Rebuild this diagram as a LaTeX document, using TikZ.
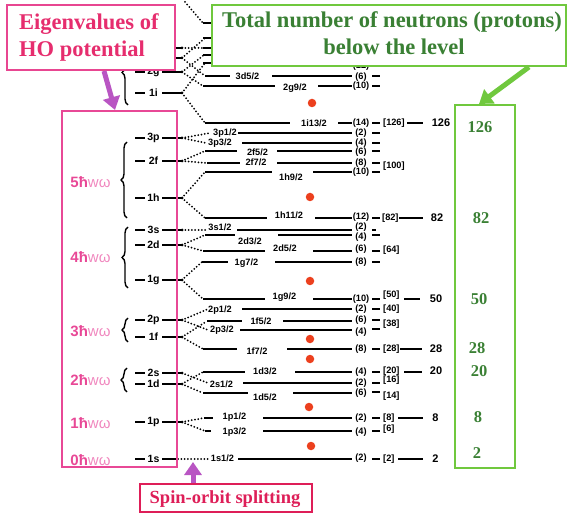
\documentclass[tikz,border=0pt]{standalone}
\usepackage{fontspec}
\setmainfont{Liberation Serif}
\setsansfont{Liberation Sans}
\usetikzlibrary{arrows.meta,decorations.pathreplacing}
\definecolor{hopink}{RGB}{232,72,150}
\definecolor{hopinklt}{RGB}{240,135,190}
\definecolor{eigpink}{RGB}{230,45,110}
\definecolor{eigborder}{RGB}{232,70,145}
\definecolor{socrim}{RGB}{222,30,88}
\definecolor{gtext}{RGB}{58,128,52}
\definecolor{gborder}{RGB}{112,200,62}
\definecolor{arrpurple}{RGB}{185,85,195}
\definecolor{dotred}{RGB}{236,64,30}
\newcommand{\lblf}{\sffamily\bfseries\fontsize{9.2}{10}\selectfont}
\newcommand{\holf}{\sffamily\bfseries\fontsize{10.5}{11}\selectfont}
\newcommand{\magf}{\sffamily\bfseries\fontsize{11}{12}\selectfont}
\newcommand{\hwf}{\sffamily\fontsize{15}{16}\selectfont}
\newcommand{\bigf}{\rmfamily\bfseries\fontsize{22.5}{24}\selectfont}
\newcommand{\gnumf}{\rmfamily\bfseries\fontsize{16.5}{18}\selectfont}
\newcommand{\sof}{\rmfamily\bfseries\fontsize{18.5}{20}\selectfont}
\newcommand{\mylev}[8]{%
  \coordinate (#1) at (#3,#2);
  \draw[lvl] (#3,#2) -- (#4,#2);
  \node[slab] (#1-t) at (#6,#7) {#5};
  \draw[lvl] (#8,#2) -- (352,#2);}
\newcommand{\mycnt}[4]{%
  \node[slab] (#1-n) at (361,#4) {#3};
  \draw[lvl] (372,#2) -- (380,#2);}
\newcommand{\myho}[3]{%
  \draw[lvl] (135,#2) -- (145,#2);
  \node[hol] (#1-t) at (153.5,#2) {#3};
  \draw[lvl] (162,#2) -- (182,#2);
  \fill (182,#2) circle (1.5pt);
  \coordinate (#1) at (182,#2);}
\newcommand{\hw}[4]{%
  \node[hwlab] (#1) at (90.5,#2) {{\bfseries\color{hopink}#3}{\color{hopinklt}wω}};}
\begin{document}
\begin{tikzpicture}[x=1pt,y=-1pt,
  lvl/.style={line width=1.5pt},
  dots/.style={line width=2pt, dash pattern=on 0pt off 3.3pt, line cap=round},
  slab/.style={font=\lblf, inner sep=0pt},
  hol/.style={font=\holf, inner sep=0pt},
  mag/.style={font=\magf, inner sep=0pt},
  hwlab/.style={font=\hwf, inner sep=0pt},
  gnum/.style={font=\gnumf, text=gtext, inner sep=0pt},
  rdot/.style={fill=dotred, draw=none, circle, minimum size=8.5pt, inner sep=0pt},
  bracestyle/.style={line width=1.4pt, decorate, decoration={brace, amplitude=6pt}},
  parrow/.style={line width=5pt, draw=arrpurple, -{Triangle[length=13pt,width=17pt]}},
  garrow/.style={line width=5pt, draw=gborder, -{Triangle[length=13pt,width=17pt]}}]
\useasboundingbox (0,0) rectangle (568,513);

% ---------- hidden levels at top (behind boxes)
\coordinate (t1) at (203,23);
\coordinate (t2) at (205,38);
\coordinate (t3) at (207,48);
\coordinate (t4) at (204,55);
\coordinate (t5) at (205,63);
\foreach \yy in {23,38,48,55,63}{\draw[lvl] (203,\yy) -- (352,\yy);}
\node[slab] (c12) at (361,66) {(12)};
\draw[lvl] (372,66.5) -- (380,66.5);
\coordinate (topsrc) at (185,2);
\draw[lvl] (160,48) -- (182,48); \fill (182,48) circle (1.5pt); \coordinate (h4s) at (182,48);
\draw[lvl] (160,58) -- (182,58); \fill (182,58) circle (1.5pt); \coordinate (h3d) at (182,58);

% ---------- split levels
\mylev{s3d52}{76}{205}{230}{3d5/2}{247.5}{76}{272}
\mycnt{s3d52}{76}{(6)}{77}
\mylev{s2g92}{86}{203}{275}{2g9/2}{295}{88}{318}
\mycnt{s2g92}{86}{(10)}{86.5}
\mylev{s1i132}{123}{205}{290}{1i13/2}{314}{123}{338}
\mycnt{s1i132}{123}{(14)}{123}
\mylev{s3p12}{133}{210}{210}{3p1/2}{225}{133}{238}
\mycnt{s3p12}{133}{(2)}{133}
\mylev{s3p32}{143}{206}{206}{3p3/2}{220}{143}{242}
\mycnt{s3p32}{143}{(4)}{143}
\mylev{s2f52}{151}{205}{237}{2f5/2}{257.5}{152}{277}
\mycnt{s2f52}{151}{(6)}{152}
\mylev{s2f72}{163}{207}{240}{2f7/2}{256}{162}{277}
\mycnt{s2f72}{163}{(8)}{163}
\mylev{s1h92}{172}{205}{272}{1h9/2}{291}{177}{313}
\mycnt{s1h92}{172}{(10)}{172}
\mylev{s1h112}{218}{205}{267}{1h11/2}{289}{215}{315}
\mycnt{s1h112}{218}{(12)}{217}
\mylev{s3s12}{230}{208}{208}{3s1/2}{220}{227}{237}
\node[slab] (s3s12-n) at (361,227) {(2)};
\draw[lvl] (372,230) -- (376,230);
\mylev{s2d32}{235}{205}{235}{2d3/2}{250}{241}{278}
\mycnt{s2d32}{235}{(4)}{237}
\mylev{s2d52}{251}{203}{265}{2d5/2}{285}{248}{313}
\mycnt{s2d52}{251}{(6)}{249}
\mylev{s1g72}{262}{202}{228}{1g7/2}{246.5}{263}{275}
\mycnt{s1g72}{262}{(8)}{262}
\mylev{s1g92}{299}{203}{265}{1g9/2}{284.5}{297}{313}
\mycnt{s1g92}{299}{(10)}{299}
\mylev{s2p12}{309}{208}{208}{2p1/2}{220}{310}{242}
\mycnt{s2p12}{309}{(2)}{309}
\mylev{s1f52}{321}{207}{242}{1f5/2}{261}{321}{283}
\mycnt{s1f52}{320}{(6)}{320}
\mylev{s2p32}{330}{208}{208}{2p3/2}{222}{330}{240}
\mycnt{s2p32}{329}{(4)}{332}
\mylev{s1f72}{349}{203}{237}{1f7/2}{257}{351}{287}
\mycnt{s1f72}{349}{(8)}{349}
\mylev{s1d32}{372}{203}{245}{1d3/2}{265}{371}{295}
\mycnt{s1d32}{372}{(4)}{372}
\mylev{s2s12}{383}{208}{208}{2s1/2}{221.5}{384}{243}
\mycnt{s2s12}{383}{(2)}{383}
\mylev{s1d52}{393}{203}{248}{1d5/2}{265}{397}{293}
\mycnt{s1d52}{392}{(6)}{393}
\mylev{s1p12}{418}{204}{213}{1p1/2}{234.5}{417}{263}
\mycnt{s1p12}{418}{(2)}{418}
\mylev{s1p32}{431}{205}{211}{1p3/2}{234.5}{432}{263}
\mycnt{s1p32}{431}{(4)}{432}
\mylev{s1s12}{459}{209}{209}{1s1/2}{222.5}{458}{238}
\mycnt{s1s12}{459}{(2)}{458}

% ---------- bracketed totals and magic numbers
\node[slab,anchor=west] (b126) at (383,123) {[126]};
\draw[lvl] (407,123) -- (423,123);
\node[mag] (m126) at (441,123) {126};
\node[slab,anchor=west] (b100) at (383,166) {[100]};
\node[slab,anchor=west] (b82) at (382,218) {[82]};
\draw[lvl] (399,218) -- (423,218);
\node[mag] (m82) at (437,218) {82};
\node[slab,anchor=west] (b64) at (383,250) {[64]};
\node[slab,anchor=west] (b50) at (383,295) {[50]};
\draw[lvl] (404,299) -- (420,299);
\node[mag] (m50) at (436,299) {50};
\node[slab,anchor=west] (b40) at (383,309) {[40]};
\node[slab,anchor=west] (b38) at (383,324) {[38]};
\node[slab,anchor=west] (b28) at (383,349) {[28]};
\draw[lvl] (400,349) -- (422,349);
\node[mag] (m28) at (436,349) {28};
\node[slab,anchor=west] (b20) at (383,371) {[20]};
\draw[lvl] (404,372) -- (422,372);
\node[mag] (m20) at (436,371) {20};
\node[slab,anchor=west] (b16) at (383,380) {[16]};
\node[slab,anchor=west] (b14) at (383,396) {[14]};
\node[slab,anchor=west] (b8) at (383,418) {[8]};
\draw[lvl] (398,418) -- (423,418);
\node[mag] (m8) at (435.5,418) {8};
\node[slab,anchor=west] (b6) at (383,429) {[6]};
\node[slab,anchor=west] (b2) at (383,459) {[2]};
\draw[lvl] (398,459) -- (423,459);
\node[mag] (m2) at (435.5,459) {2};

% ---------- HO levels
\myho{h2g}{72}{2g}
\myho{h1i}{93}{1i}
\myho{h3p}{138}{3p}
\myho{h2f}{161}{2f}
\myho{h1h}{198}{1h}
\myho{h3s}{230}{3s}
\myho{h2d}{245}{2d}
\myho{h1g}{280}{1g}
\myho{h2p}{320}{2p}
\myho{h1f}{337}{1f}
\myho{h2s}{373}{2s}
\myho{h1d}{384}{1d}
\myho{h1p}{422}{1p}
\draw[lvl] (135,459) -- (145,459);
\node[hol] (h1s-t) at (153.5,459) {1s};
\draw[lvl] (162,459) -- (177,459);
\coordinate (h1s) at (178,459);

% ---------- dotted spin-orbit connectors
\draw[dots] (topsrc) -- (t1);
\draw[dots] (h4s) -- (t3);
\draw[dots] (h3d) -- (t2);
\draw[dots] (h3d) -- (s3d52);
\draw[dots] (h2g) -- (t4);
\draw[dots] (h2g) -- (s2g92);
\draw[dots] (h1i) -- (t5);
\draw[dots] (h1i) -- (s1i132);
\draw[dots] (h3p) -- (s3p12);
\draw[dots] (h3p) -- (s3p32);
\draw[dots] (h2f) -- (s2f52);
\draw[dots] (h2f) -- (s2f72);
\draw[dots] (h1h) -- (s1h92);
\draw[dots] (h1h) -- (s1h112);
\draw[dots] (h3s) -- (s3s12);
\draw[dots] (h2d) -- (s2d32);
\draw[dots] (h2d) -- (s2d52);
\draw[dots] (h1g) -- (s1g72);
\draw[dots] (h1g) -- (s1g92);
\draw[dots] (h2p) -- (s2p12);
\draw[dots] (h2p) -- (s2p32);
\draw[dots] (h1f) -- (s1f52);
\draw[dots] (h1f) -- (s1f72);
\draw[dots] (h2s) -- (s2s12);
\draw[dots] (h1d) -- (s1d32);
\draw[dots] (h1d) -- (s1d52);
\draw[dots] (h1p) -- (s1p12);
\draw[dots] (h1p) -- (s1p32);
\draw[dots] (h1s) -- (s1s12);

% ---------- braces
\draw[bracestyle] (128,105) -- (128,40);
\draw[bracestyle] (127,218) -- (127,142);
\draw[bracestyle] (128,288) -- (128,227);
\draw[bracestyle] (128,342) -- (128,318);
\draw[bracestyle] (127,392) -- (127,368);

% ---------- shell gaps
\node[rdot] (r1) at (312,103) {};
\node[rdot] (r2) at (310,197) {};
\node[rdot] (r3) at (310,281) {};
\node[rdot] (r4) at (310,339) {};
\node[rdot] (r5) at (310,359) {};
\node[rdot] (r6) at (309,407) {};
\node[rdot] (r7) at (311,446) {};

% ---------- HO column
\draw[hopink, line width=2pt] (62,111) rectangle (177,467);
\hw{hw5}{182}{5ħ}{}
\hw{hw4}{257}{4ħ}{}
\hw{hw3}{331}{3ħ}{}
\hw{hw2}{380}{2ħ}{}
\hw{hw1}{423}{1ħ}{}
\hw{hw0}{460}{0ħ}{}

% ---------- totals column
\draw[gborder, line width=2.5pt] (455,105) rectangle (515,468);
\node[gnum] (g126) at (480,127) {126};
\node[gnum] (g82) at (481,218) {82};
\node[gnum] (g50) at (479,299) {50};
\node[gnum] (g28) at (477,348) {28};
\node[gnum] (g20) at (479,371) {20};
\node[gnum] (g8) at (478,417) {8};
\node[gnum] (g2) at (477,453) {2};

% ---------- callouts
\draw[eigborder, line width=2.5pt, fill=white] (7,5) rectangle (175,70);
\node[font=\bigf, text=eigpink, anchor=west, inner sep=0pt] (eig1) at (19,24) {Eigenvalues of};
\node[font=\bigf, text=eigpink, anchor=west, inner sep=0pt] (eig2) at (19,51) {HO potential};

\draw[gborder, line width=2.5pt, fill=white] (212,5) rectangle (566,66);
\node[font=\bigf, text=gtext, inner sep=0pt] (tot1) at (392,22) {Total number of neutrons (protons)};
\node[font=\bigf, text=gtext, inner sep=0pt] (tot2) at (394,47) {below the level};

\draw[socrim, line width=2.5pt, fill=white] (140,484) rectangle (312,512);
\node[font=\sof, text=socrim, inner sep=0pt] (so) at (225,499) {Spin-orbit splitting};

% ---------- arrows
\coordinate (pa1) at (104,71);
\coordinate (pa2) at (115,110);
\draw[parrow] (pa1) -- (pa2);
\coordinate (pb1) at (193,483);
\coordinate (pb2) at (193,462);
\draw[parrow] (pb1) -- (pb2);
\coordinate (ga1) at (529,67);
\coordinate (ga2) at (479,104);
\draw[garrow] (ga1) -- (ga2);
\end{tikzpicture}
\end{document}
